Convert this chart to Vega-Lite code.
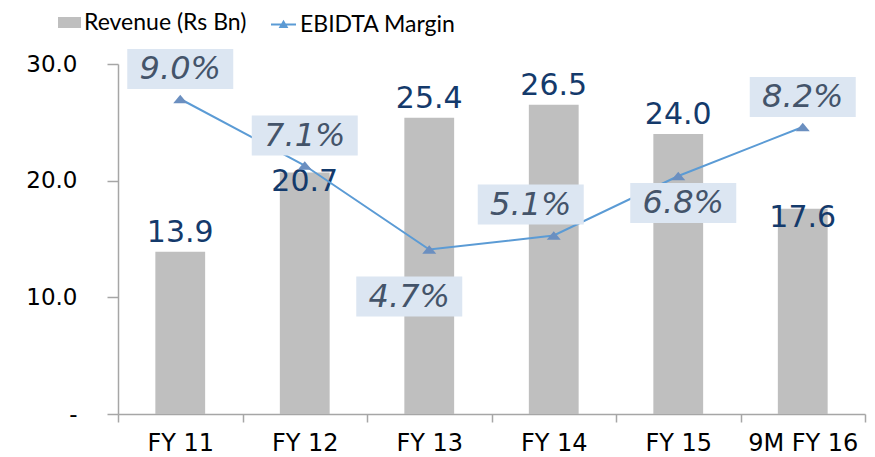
{
  "$schema": "https://vega.github.io/schema/vega-lite/v6.json",
  "width": 747,
  "height": 350,
  "autosize": {"type": "none"},
  "padding": {"left": 118, "top": 64, "right": 10, "bottom": 43},
  "background": "white",
  "config": {"view": {"stroke": null}, "font": "DejaVu Sans"},
  "data": {
    "values": [
      {"year": "FY 11", "revenue": 13.9, "margin": 0.090},
      {"year": "FY 12", "revenue": 20.7, "margin": 0.071},
      {"year": "FY 13", "revenue": 25.4, "margin": 0.047},
      {"year": "FY 14", "revenue": 26.5, "margin": 0.051},
      {"year": "FY 15", "revenue": 24.0, "margin": 0.068},
      {"year": "9M FY 16", "revenue": 17.6, "margin": 0.082}
    ]
  },
  "encoding": {
    "x": {
      "field": "year",
      "type": "nominal",
      "sort": null,
      "title": null,
      "scale": {"paddingInner": 0, "paddingOuter": 0},
      "axis": {
        "tickBand": "extent",
        "tickSize": 8,
        "labelPadding": 9,
        "labelAngle": 0,
        "labelFont": "DejaVu Sans",
        "labelFontSize": 24,
        "labelColor": "#000000",
        "labelLimit": 200,
        "domainColor": "#A6A6A6",
        "tickColor": "#A6A6A6",
        "domainWidth": 1.5,
        "tickWidth": 1.5,
        "grid": false
      }
    }
  },
  "layer": [
    {
      "encoding": {
        "y": {
          "field": "revenue",
          "type": "quantitative",
          "title": null,
          "scale": {"domain": [0, 30], "nice": false},
          "axis": {
            "values": [0, 10, 20, 30],
            "labelExpr": "datum.value == 0 ? '-' : format(datum.value, '.1f')",
            "tickSize": 11,
            "labelPadding": 30,
            "labelFont": "DejaVu Sans",
            "labelFontSize": 23,
            "labelColor": "#000000",
            "domainColor": "#A6A6A6",
            "tickColor": "#A6A6A6",
            "domainWidth": 1.5,
            "tickWidth": 1.5,
            "grid": false
          }
        }
      },
      "layer": [
        {
          "mark": {"type": "bar", "width": {"band": 0.4}},
          "encoding": {
            "fill": {
              "datum": "Revenue (Rs Bn)",
              "type": "nominal",
              "scale": {"range": ["#BFBFBF"]},
              "legend": {
                "title": null,
                "orient": "none",
                "legendX": -60,
                "legendY": -53,
                "padding": 0,
                "symbolType": "M-1,-0.48L1,-0.48L1,0.48L-1,0.48Z",
                "symbolSize": 529,
                "symbolStrokeWidth": 0,
                "labelFont": "Lato",
                "labelFontSize": 23,
                "labelColor": "#000000",
                "labelLimit": 400,
                "labelOffset": 3
              }
            }
          }
        },
        {
          "transform": [{"filter": "datum.year !== 'FY 12' && datum.year !== '9M FY 16'"}],
          "mark": {"type": "text", "dy": -10, "baseline": "alphabetic", "fontSize": 30, "font": "DejaVu Sans", "color": "#143A6B"},
          "encoding": {"text": {"field": "revenue", "type": "quantitative", "format": ".1f"}}
        },
        {
          "transform": [{"filter": "datum.year === 'FY 12' || datum.year === '9M FY 16'"}],
          "mark": {"type": "text", "dy": 18, "baseline": "alphabetic", "fontSize": 30, "font": "DejaVu Sans", "color": "#143A6B"},
          "encoding": {"text": {"field": "revenue", "type": "quantitative", "format": ".1f"}}
        }
      ]
    },
    {
      "encoding": {
        "y": {
          "field": "margin",
          "type": "quantitative",
          "scale": {"domain": [0, 0.1], "nice": false},
          "axis": null
        }
      },
      "layer": [
        {
          "mark": {"type": "line", "strokeWidth": 2},
          "encoding": {
            "stroke": {
              "datum": "EBIDTA Margin",
              "type": "nominal",
              "scale": {"range": ["#5B9BD5"]},
              "legend": {
                "title": null,
                "orient": "none",
                "legendX": 152,
                "legendY": -53,
                "padding": 0,
                "symbolType": "M-1,0L1,0M-0.25,0.2L0,-0.22L0.25,0.2Z",
                "symbolSize": 625,
                "symbolStrokeWidth": 2,
                "symbolFillColor": "#6B8FC0",
                "labelFont": "Lato",
                "labelFontSize": 23,
                "labelColor": "#000000",
                "labelLimit": 400,
                "labelOffset": 3
              }
            }
          }
        },
        {
          "mark": {"type": "point", "shape": "M-1,0.6L0,-0.6L1,0.6Z", "size": 196, "filled": true, "color": "#6B8FC0", "opacity": 1}
        },
        {
          "transform": [{"filter": {"field": "year", "oneOf": ["FY 11", "FY 12", "9M FY 16"]}}],
          "layer": [
            {"mark": {"type": "point", "shape": "M-1,-0.377L1,-0.377L1,0.377L-1,0.377Z", "size": 11236, "filled": true, "color": "#DCE6F2", "opacity": 1, "yOffset": -30}},
            {"mark": {"type": "text", "fontSize": 32, "fontStyle": "italic", "font": "DejaVu Sans", "color": "#44546A", "baseline": "middle", "yOffset": -30}, "encoding": {"text": {"field": "margin", "type": "quantitative", "format": ".1%"}}}
          ]
        },
        {
          "transform": [{"filter": {"field": "year", "equal": "FY 14"}}],
          "layer": [
            {"mark": {"type": "point", "shape": "M-1,-0.377L1,-0.377L1,0.377L-1,0.377Z", "size": 11236, "filled": true, "color": "#DCE6F2", "opacity": 1, "xOffset": -23, "yOffset": -31}},
            {"mark": {"type": "text", "fontSize": 32, "fontStyle": "italic", "font": "DejaVu Sans", "color": "#44546A", "baseline": "middle", "xOffset": -23, "yOffset": -31}, "encoding": {"text": {"field": "margin", "type": "quantitative", "format": ".1%"}}}
          ]
        },
        {
          "transform": [{"filter": {"field": "year", "equal": "FY 13"}}],
          "layer": [
            {"mark": {"type": "point", "shape": "M-1,-0.377L1,-0.377L1,0.377L-1,0.377Z", "size": 11236, "filled": true, "color": "#DCE6F2", "opacity": 1, "xOffset": -20, "yOffset": 47}},
            {"mark": {"type": "text", "fontSize": 32, "fontStyle": "italic", "font": "DejaVu Sans", "color": "#44546A", "baseline": "middle", "xOffset": -20, "yOffset": 47}, "encoding": {"text": {"field": "margin", "type": "quantitative", "format": ".1%"}}}
          ]
        },
        {
          "transform": [{"filter": {"field": "year", "equal": "FY 15"}}],
          "layer": [
            {"mark": {"type": "point", "shape": "M-1,-0.377L1,-0.377L1,0.377L-1,0.377Z", "size": 11236, "filled": true, "color": "#DCE6F2", "opacity": 1, "xOffset": 5, "yOffset": 27}},
            {"mark": {"type": "text", "fontSize": 32, "fontStyle": "italic", "font": "DejaVu Sans", "color": "#44546A", "baseline": "middle", "xOffset": 5, "yOffset": 27}, "encoding": {"text": {"field": "margin", "type": "quantitative", "format": ".1%"}}}
          ]
        }
      ]
    }
  ],
  "resolve": {"scale": {"y": "independent"}}
}
